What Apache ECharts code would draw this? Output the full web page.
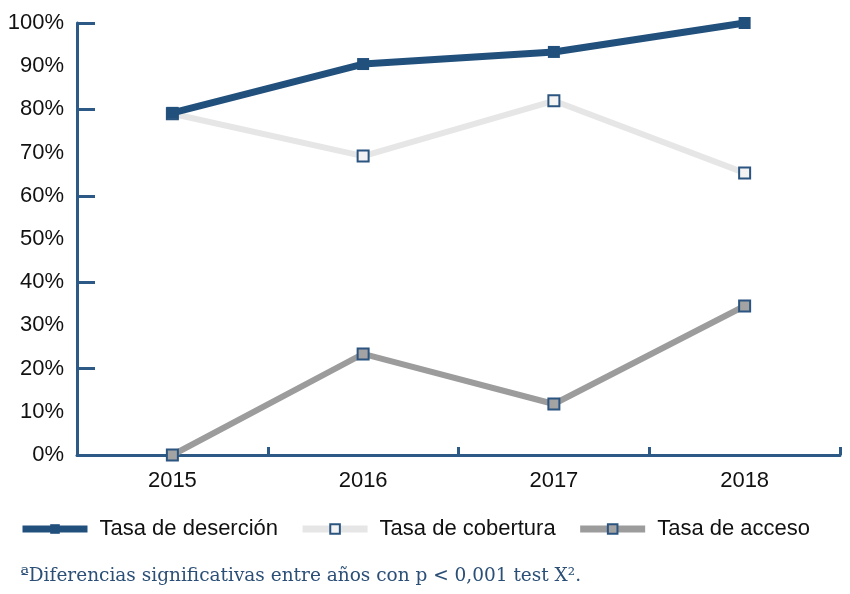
<!DOCTYPE html>
<html>
<head>
<meta charset="utf-8">
<script src="https://cdn.jsdelivr.net/npm/echarts@6/dist/echarts.min.js"></script>
<style>
html,body{margin:0;padding:0;background:#fff;}
#c{width:850px;height:594px;}
</style>
</head>
<body>
<div id="c"></div>
<script>
const years = ['2015', '2016', '2017', '2018'];
const desercion = [79.2, 90.5, 93.3, 100];
const cobertura = [79.0, 69.2, 82.0, 65.3];
const acceso = [0, 23.4, 11.8, 34.5];
const seriesNames = ['Tasa de deserción', 'Tasa de cobertura', 'Tasa de acceso'];
const footnote = 'ªDiferencias significativas entre años con p < 0,001 test X².';

const axisColor = '#2c5986';
const markBorder = '#2b5580';

const chart = echarts.init(document.getElementById('c'), null, {renderer: 'canvas'});
chart.setOption({
  animation: false,
  backgroundColor: '#ffffff',
  textStyle: {fontFamily: 'Liberation Sans, Arial, sans-serif'},
  grid: {left: 77, right: 10, top: 23, bottom: 139, containLabel: false},
  xAxis: {
    type: 'category',
    data: years,
    boundaryGap: true,
    axisLine: {lineStyle: {color: axisColor, width: 3}},
    axisTick: {show: true, inside: true, length: 8, lineStyle: {color: axisColor, width: 3}},
    axisLabel: {color: '#111', fontSize: 22, margin: 15}
  },
  yAxis: [
    {
      type: 'value', min: 0, max: 100, interval: 10,
      axisLine: {show: true, lineStyle: {color: axisColor, width: 3}},
      axisTick: {show: false},
      splitLine: {show: false},
      axisLabel: {color: '#111', fontSize: 22, margin: 13, formatter: '{value}%'}
    },
    {
      type: 'value', min: 0, max: 100, interval: 20, position: 'left',
      axisLine: {show: false},
      axisTick: {show: true, inside: true, length: 18, lineStyle: {color: axisColor, width: 3}},
      splitLine: {show: false},
      axisLabel: {show: false}
    }
  ],
  legend: {
    left: 14, top: 513,
    itemWidth: 65, itemHeight: 12, itemGap: 21,
    lineStyle: {width: 7},
    textStyle: {color: '#111', fontSize: 22, padding: [0, 0, 0, 7]},
    data: seriesNames
  },
  title: {
    text: footnote,
    left: 15, top: 562,
    textStyle: {fontFamily: 'DejaVu Serif, Liberation Serif, serif', fontWeight: 'normal', fontSize: 18.5, color: '#2b4f76'}
  },
  series: [
    {
      name: seriesNames[0], type: 'line', data: desercion, yAxisIndex: 0, z: 5,
      symbol: 'rect', symbolSize: 12,
      lineStyle: {color: '#22507d', width: 7},
      itemStyle: {color: '#22507d', borderColor: '#22507d', borderWidth: 0}
    },
    {
      name: seriesNames[1], type: 'line', data: cobertura, yAxisIndex: 0, z: 3,
      symbol: 'rect', symbolSize: 11,
      lineStyle: {color: '#e6e6e6', width: 6},
      itemStyle: {color: '#f3f3f3', borderColor: markBorder, borderWidth: 2}
    },
    {
      name: seriesNames[2], type: 'line', data: acceso, yAxisIndex: 0, z: 4,
      symbol: 'rect', symbolSize: 11,
      lineStyle: {color: '#9c9c9c', width: 6},
      itemStyle: {color: '#a3a3a3', borderColor: markBorder, borderWidth: 2}
    }
  ]
});
</script>
</body>
</html>
